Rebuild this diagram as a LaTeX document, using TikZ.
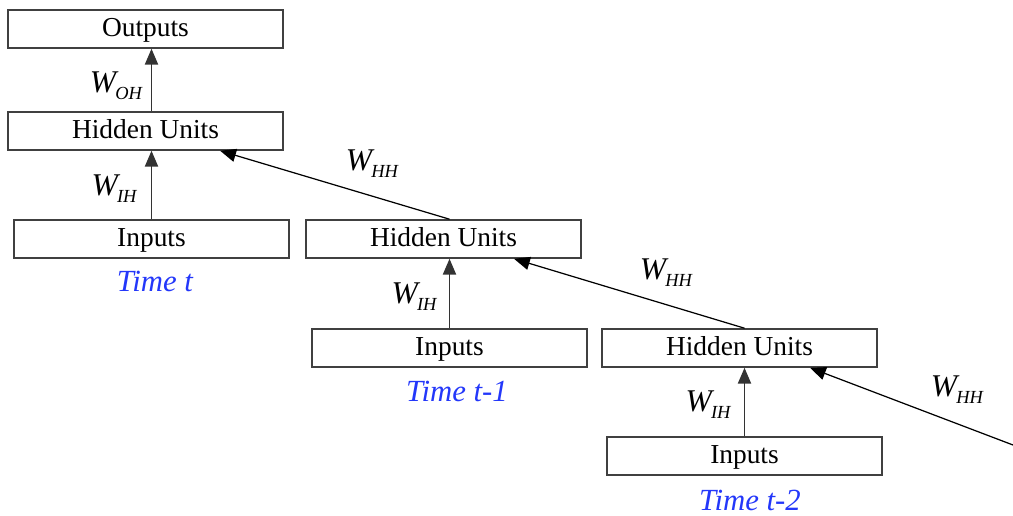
\documentclass[tikz,border=0pt]{standalone}
\usepackage{fontspec}
\setmainfont{Liberation Serif}
\usetikzlibrary{arrows.meta,calc}
\definecolor{timeblue}{RGB}{35,55,250}
\newcommand{\wlab}[1]{\itshape W\kern-0.5pt\raisebox{-0.5ex}{\fontsize{10.5}{11}\selectfont #1}}
\tikzset{
  unit/.style={draw=black!75,line width=0.9pt,minimum width=5.5cm,minimum height=0.76cm,
    inner sep=0pt,text height=12pt,text depth=3pt,font=\fontsize{15.6}{18}\selectfont},
  timelab/.style={text=timeblue,inner sep=0pt,text height=12pt,text depth=1pt,
    font=\fontsize{17.5}{20}\selectfont\itshape},
  wt/.style={font=\fontsize{18}{20}\selectfont},
  up/.style={-{Triangle[length=9pt,width=7.5pt]},draw=black!80,line width=0.8pt},
  rec/.style={-{Triangle[length=9pt,width=7.5pt]},draw=black,line width=0.7pt}
}
\begin{document}
\begin{tikzpicture}[x=0.02cm,y=-0.02cm]
    \useasboundingbox (0,0) rectangle (1013,516);
        \node[unit] (out) at (145.5, 29) {Outputs};
        \node[unit] (hid0) at (145.5, 131) {Hidden Units};
        \node[unit] (in0) at (151.5, 239) {Inputs};
        \node[timelab] (time0) at (155, 282) {Time t};
        \node[unit] (hid1) at (443.5, 239) {Hidden Units};
        \node[unit] (in1) at (449.5, 348) {Inputs};
        \node[timelab] (time1) at (457, 392) {Time t-1};
        \node[unit] (hid2) at (739.5, 348) {Hidden Units};
        \node[unit] (in2) at (744.5, 456) {Inputs};
        \node[timelab] (time2) at (750, 501) {Time t-2};
        \coordinate (prev) at (1013, 445);
        \draw[up] (hid0.north -| in0) -- (out.south -| in0);
        \draw[up] (in0) -- (hid0.south -| in0);
        \draw[up] (in1.north) -- (hid1.south -| in1);
        \draw[up] (in2.north) -- (hid2.south -| in2);
        \draw[rec] (hid1.north -| in1) -- ($(hid0.south)!0.54!(hid0.south east)$);
        \draw[rec] (hid2.north -| in2) -- ($(hid1.south)!0.51!(hid1.south east)$);
        \draw[rec] (prev) -- ($(hid2.south)!0.51!(hid2.south east)$);
        \node[wt] (woh) at (116, 86) {\wlab{OH}};
        \node[wt] (wih0) at (114, 189) {\wlab{IH}};
        \node[wt] (whh0) at (372, 164) {\wlab{HH}};
        \node[wt] (wih1) at (414, 297) {\wlab{IH}};
        \node[wt] (whh1) at (666, 273) {\wlab{HH}};
        \node[wt] (wih2) at (708, 405) {\wlab{IH}};
        \node[wt] (whh2) at (957, 390) {\wlab{HH}};
    \end{tikzpicture}
\end{document}
